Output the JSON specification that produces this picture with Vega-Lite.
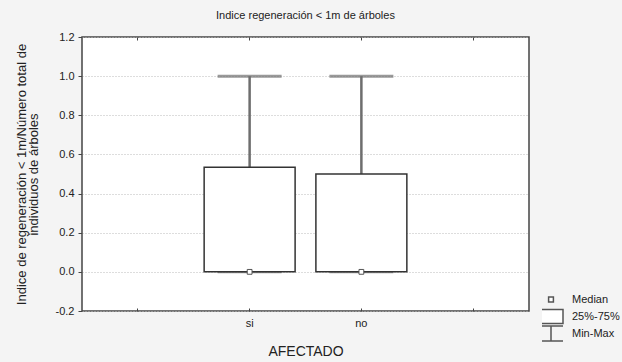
{
  "$schema": "https://vega.github.io/schema/vega-lite/v6.json",
  "autosize": "none",
  "width": 447,
  "height": 274,
  "padding": {"left": 82, "top": 37, "right": 93, "bottom": 51},
  "background": "#f4f4f4",
  "title": {"text": "Indice regeneración < 1m de árboles", "fontSize": 11, "fontWeight": "normal", "font": "Liberation Sans", "color": "#222", "offset": 10, "anchor": "middle"},
  "config": {
    "font": "Liberation Sans",
    "view": {"stroke": "#444", "strokeWidth": 1.5, "fill": "white"},
    "axis": {"labelFont": "Liberation Sans", "titleFont": "Liberation Sans", "labelColor": "#222", "titleColor": "#222", "titleFontWeight": "normal", "domain": false, "tickColor": "#444"},
    "axisY": {"labelFontSize": 11, "titleFontSize": 13, "tickSize": 4, "labelPadding": 4, "labelOverlap": false},
    "axisX": {"grid": false}
  },
  "data": {"values": [
    {"grupo": "si", "min": 0, "q1": 0, "median": 0, "q3": 0.535, "max": 1},
    {"grupo": "no", "min": 0, "q1": 0, "median": 0, "q3": 0.5, "max": 1}
  ]},
  "resolve": {"axis": {"x": "independent", "y": "independent"}},
  "layer": [
    {
      "mark": {"type": "rule", "color": "#6e6e6e", "strokeWidth": 2.5},
      "encoding": {
        "x": {"field": "grupo", "type": "nominal", "scale": {"domain": ["a", "si", "no", "b"], "paddingInner": 0.186, "paddingOuter": 0.093}, "axis": null},
        "y": {"field": "q3", "type": "quantitative", "scale": {"domain": [-0.2, 1.2], "nice": false, "zero": false}, "axis": {"orient": "left", "values": [-0.2, 0, 0.2, 0.4, 0.6, 0.8, 1.0, 1.2], "tickCount": 8, "grid": true, "gridDash": [1, 2], "gridColor": "#bbb", "labelExpr": "replace(format(datum.value, '.1f'), '\u2212', '-')", "title": "individuos de árboles", "titlePadding": 15}},
        "y2": {"field": "max"}
      }
    },
    {
      "mark": {"type": "rule", "color": "#6e6e6e", "strokeWidth": 2.5},
      "encoding": {
        "x": {"field": "grupo", "type": "nominal", "axis": null},
        "y": {"field": "min", "type": "quantitative", "axis": {"orient": "left", "offset": 54, "title": "Indice de regeneración < 1m/Número total de", "labels": false, "ticks": false, "grid": false, "titlePadding": 0}},
        "y2": {"field": "q1"}
      }
    },
    {
      "mark": {"type": "tick", "color": "#6e6e6e", "size": 64, "thickness": 3, "orient": "horizontal"},
      "encoding": {
        "x": {"field": "grupo", "type": "nominal", "axis": null},
        "y": {"field": "max", "type": "quantitative", "axis": null}
      }
    },
    {
      "mark": {"type": "tick", "color": "#6e6e6e", "size": 64, "thickness": 3, "orient": "horizontal"},
      "encoding": {
        "x": {"field": "grupo", "type": "nominal", "axis": null},
        "y": {"field": "min", "type": "quantitative", "axis": null}
      }
    },
    {
      "mark": {"type": "bar", "fill": "white", "stroke": "#333", "strokeWidth": 1.5},
      "encoding": {
        "x": {"field": "grupo", "type": "nominal", "axis": {"orient": "bottom", "offset": -3, "title": "AFECTADO", "titleFontSize": 14, "labelFontSize": 11, "labelAngle": 0, "tickSize": 3, "labelPadding": 6, "titlePadding": 16, "labelExpr": "datum.value == 'si' || datum.value == 'no' ? datum.value : ''"}},
        "y": {"field": "q1", "type": "quantitative", "axis": null},
        "y2": {"field": "q3"}
      }
    },
    {
      "mark": {"type": "point", "filled": true, "fill": "white", "stroke": "#555", "strokeWidth": 1, "size": 256, "opacity": 1},
      "encoding": {
        "x": {"field": "grupo", "type": "nominal", "axis": {"orient": "top", "offset": -3, "title": null, "labels": false, "tickSize": 3}},
        "y": {"field": "median", "type": "quantitative", "axis": null},
        "shape": {
          "datum": "Median",
          "type": "nominal",
          "scale": {
            "domain": ["Median", "25%-75%", "Min-Max"],
            "range": ["M-0.3,-0.3H0.3V0.3H-0.3Z", "M-1.5,-0.875H1.5V0.875H-1.5Z", "M-1.5,-0.94H1.5M0,-0.94V0.94M-1.5,0.94H1.5"]
          },
          "legend": {
            "orient": "none", "legendX": 460, "legendY": 254, "title": null, "symbolSize": 256,
            "labelFontSize": 11, "labelColor": "#222", "labelOffset": 12, "rowPadding": 0, "padding": 0, "clipHeight": 17,
            "encode": {"symbols": {"update": {"stroke": {"value": "#555"}, "strokeWidth": [{"test": "datum.label == 'Median'", "value": 1}, {"value": 1.5}], "fill": {"value": "white"}, "opacity": {"value": 1}}}}
          }
        }
      }
    }
  ]
}
